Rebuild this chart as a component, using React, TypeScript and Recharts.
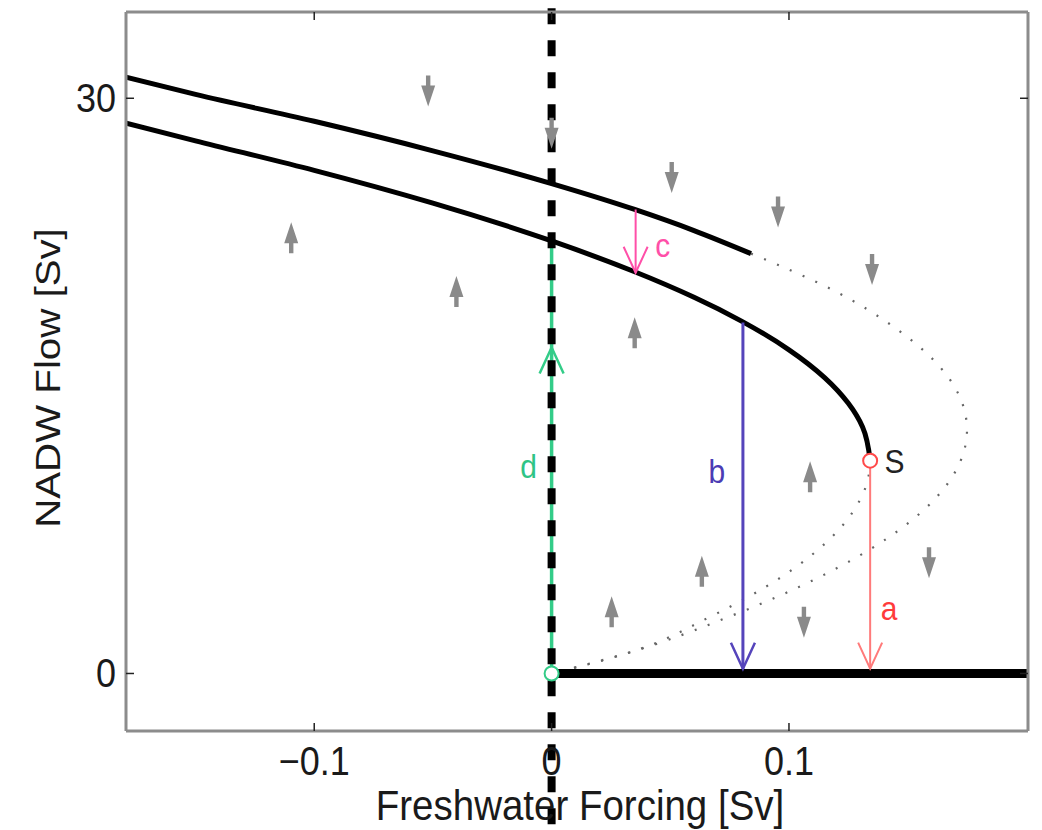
import React from 'react';
import { ComposedChart, Line, Scatter, XAxis, YAxis, ReferenceLine } from 'recharts';

const FONT = '"Liberation Sans", Arial, Helvetica, sans-serif';

// ---- axes ----
const xDomain = [-0.1793, 0.2007];
const yDomain = [-3, 34.5];
const xTicks = [-0.1, 0, 0.1];
const yTicks = [0, 30];

// ---- stable branches (thick black) ----
const upperStableX = [-0.1793, -0.15, -0.1, -0.05, 0, 0.035, 0.06, 0.084];
const upperStableY = [31.1, 30.2, 28.8, 27.26, 25.55, 24.2, 23.1, 21.9];

const lowerStableX = [-0.1793, -0.15, -0.1, -0.05, 0, 0.035, 0.06, 0.08, 0.1, 0.115, 0.125, 0.131, 0.1342];
const lowerStableY = [28.7, 27.78, 26.24, 24.53, 22.56, 20.95, 19.62, 18.38, 16.88, 15.43, 14.09, 12.86, 11.1];

const offStateX = [0, 0.2007];
const offStateY = [0, 0];

// ---- unstable branches (dotted grey) ----
const outerUnstableX = [0.084, 0.1185, 0.145, 0.1635, 0.1733, 0.175, 0.172, 0.1607, 0.1408, 0.1124, 0.0756, 0.0302, 0];
const outerUnstableY = [21.9, 20, 18, 16, 14, 12.7, 11, 9, 7, 5, 3, 1, 0];

const innerUnstableX = [0.1342, 0.133, 0.1297, 0.1171, 0.0964, 0.0675, 0.0304, 0];
const innerUnstableY = [11.1, 10, 9, 7, 5, 3, 1, 0];

// ---- grey direction arrows ----
const flowX = [-0.052, 0, 0.0506, 0.0954, 0.135, -0.1097, -0.0401, 0.035, 0.1089, 0.0633, 0.0253, 0.1063, 0.159];
const flowY = [30.4, 28.2, 25.9, 24.1, 21.1, 22.7, 19.9, 17.75, 10.24, 5.3, 3.2, 2.7, 5.8];
const flowDir = [-1, -1, -1, -1, -1, 1, 1, 1, 1, 1, 1, -1, -1];

// ---- coloured transition arrows ----
const arrowAX = [0.1342, 0.1342];
const arrowAY = [11.1, 0.25];
const arrowBX = [0.0806, 0.0806];
const arrowBY = [18.3, 0.25];
const arrowCX = [0.0354, 0.0354];
const arrowCY = [24.2, 20.9];
const arrowDX = [0, 0, 0];
const arrowDY = [0, 17.0, 22.56];

// ---- labels ----
const labelText = ['a', 'b', 'c', 'd', 'S'];
const labelX = [0.1422, 0.0696, 0.0468, -0.0097, 0.1445];
const labelY = [2.78, 9.93, 21.72, 10.19, 10.45];
const labelColor = ['#ff3b3b', '#4b3cb4', '#ff4fa8', '#2fc486', '#222222'];

// ---- markers ----
const markerX = [0.1342, 0];
const markerY = [11.1, 0];
const markerColor = ['#ff4a4a', '#33cc88'];

const toPts = (xs: number[], ys: number[]) => xs.map((x, i) => ({ x, y: ys[i] }));

const upperStable = toPts(upperStableX, upperStableY);
const lowerStable = toPts(lowerStableX, lowerStableY);
const offState = toPts(offStateX, offStateY);
const outerUnstable = toPts(outerUnstableX, outerUnstableY);
const innerUnstable = toPts(innerUnstableX, innerUnstableY);
const flows = flowX.map((x, i) => ({ x, y: flowY[i], dir: flowDir[i] }));
const labels = labelX.map((x, i) => ({ x, y: labelY[i], t: labelText[i], c: labelColor[i] }));
const markers = markerX.map((x, i) => ({ x, y: markerY[i], c: markerColor[i] }));

const arrowA = [{ x: arrowAX[0], y: arrowAY[0] }, { x: arrowAX[1], y: arrowAY[1], head: -1 }];
const arrowB = [{ x: arrowBX[0], y: arrowBY[0] }, { x: arrowBX[1], y: arrowBY[1], head: -1 }];
const arrowC = [{ x: arrowCX[0], y: arrowCY[0] }, { x: arrowCX[1], y: arrowCY[1], head: -1 }];
const arrowD = [
  { x: arrowDX[0], y: arrowDY[0] },
  { x: arrowDX[1], y: arrowDY[1], head: 1 },
  { x: arrowDX[2], y: arrowDY[2] },
];

const fmt = (v: number) => (v < 0 ? '\u2212' + Math.abs(v) : String(v));

const XTickBottom = (props: any) => {
  const { x, y, payload } = props;
  return (
    <g>
      <line x1={x} x2={x} y1={y} y2={y - 8} stroke="#222" strokeWidth={1.5} />
      <text
        transform={`translate(${x},${y + 44}) scale(1,1.12)`}
        textAnchor="middle"
        fontSize={36}
        fontFamily={FONT}
        fill="#1a1a1a"
      >
        {fmt(payload.value)}
      </text>
    </g>
  );
};

const XTickTop = (props: any) => {
  const { x, y } = props;
  return <line x1={x} x2={x} y1={y} y2={y + 8} stroke="#222" strokeWidth={1.5} />;
};

const YTickLeft = (props: any) => {
  const { x, y, payload } = props;
  return (
    <g>
      <line x1={x} x2={x + 8} y1={y} y2={y} stroke="#222" strokeWidth={1.5} />
      <text
        transform={`translate(${x - 10},${y + 14}) scale(1,1.12)`}
        textAnchor="end"
        fontSize={36}
        fontFamily={FONT}
        fill="#1a1a1a"
      >
        {fmt(payload.value)}
      </text>
    </g>
  );
};

const YTickRight = (props: any) => {
  const { x, y } = props;
  return <line x1={x} x2={x - 8} y1={y} y2={y} stroke="#222" strokeWidth={1.5} />;
};

const FlowArrow = (props: any) => {
  const { cx, cy, payload } = props;
  const d = payload.dir; // 1 up, -1 down
  const tip = cy - d * 16;
  const base = tip + d * 21;
  const tail = cy + d * 15;
  const path = `M${cx},${tip} L${cx + 7},${base} L${cx + 2.2},${base} L${cx + 2.2},${tail} L${cx - 2.2},${tail} L${cx - 2.2},${base} L${cx - 7},${base} Z`;
  return <path d={path} fill="#8a8a8a" stroke="none" />;
};

const makeHead = (color: string, w: number) => (p: any) => {
  const { cx, cy, payload, index } = p;
  if (!payload || !payload.head) return <g key={'h' + index} />;
  const by = cy + payload.head * 26;
  return (
    <path
      key={'h' + index}
      d={`M${cx - 12},${by} L${cx},${cy} L${cx + 12},${by}`}
      fill="none"
      stroke={color}
      strokeWidth={w}
    />
  );
};

const LabelShape = (props: any) => {
  const { cx, cy, payload } = props;
  return (
    <text
      transform={`translate(${cx},${cy}) scale(1,1.12)`}
      textAnchor="middle"
      fontSize={30}
      fontFamily={FONT}
      fill={payload.c}
    >
      {payload.t}
    </text>
  );
};

const MarkerShape = (props: any) => {
  const { cx, cy, payload } = props;
  return <circle cx={cx} cy={cy} r={7} fill="#fff" stroke={payload.c} strokeWidth={2} />;
};

const XTitle = (p: any) => {
  const vb = p.viewBox;
  return (
    <text
      transform={`translate(${vb.x + vb.width / 2 + 3},${vb.y + 89}) scale(1,1.12)`}
      textAnchor="middle"
      fontSize={38.5}
      fontFamily={FONT}
      fill="#1a1a1a"
    >
      Freshwater Forcing [Sv]
    </text>
  );
};

const YTitle = (p: any) => {
  const vb = p.viewBox;
  return (
    <text
      transform={`translate(${vb.x - 6},${vb.y + vb.height / 2 + 6.5}) rotate(-90) scale(1.15,1)`}
      textAnchor="middle"
      fontSize={35}
      fontFamily={FONT}
      fill="#1a1a1a"
    >
      NADW Flow [Sv]
    </text>
  );
};

const axisLine = { stroke: '#8c8c8c', strokeWidth: 3 };

export default function App() {
  return (
    <div style={{ position: 'absolute', left: 0, top: 0, width: 1042, height: 830, background: '#fff' }}>
      <ComposedChart width={1042} height={830} margin={{ top: 0, right: 0, left: 66, bottom: 59 }}>
        <XAxis
          xAxisId="b"
          type="number"
          dataKey="x"
          domain={xDomain}
          ticks={xTicks}
          interval={0}
          allowDataOverflow
          height={40}
          axisLine={axisLine}
          tickLine={false}
          tickSize={0}
          tickMargin={0}
          tick={<XTickBottom />}
          label={{ content: <XTitle /> }}
        />
        <XAxis
          xAxisId="top"
          orientation="top"
          type="number"
          dataKey="x"
          domain={xDomain}
          ticks={xTicks}
          interval={0}
          allowDataOverflow
          height={12}
          axisLine={axisLine}
          tickLine={false}
          tickSize={0}
          tickMargin={0}
          tick={<XTickTop />}
        />
        <YAxis
          yAxisId="l"
          type="number"
          dataKey="y"
          domain={yDomain}
          ticks={yTicks}
          interval={0}
          allowDataOverflow
          width={60}
          axisLine={axisLine}
          tickLine={false}
          tickSize={0}
          tickMargin={0}
          tick={<YTickLeft />}
          label={{ content: <YTitle /> }}
        />
        <YAxis
          yAxisId="right"
          orientation="right"
          type="number"
          dataKey="y"
          domain={yDomain}
          ticks={yTicks}
          interval={0}
          allowDataOverflow
          width={14}
          axisLine={axisLine}
          tickLine={false}
          tickSize={0}
          tickMargin={0}
          tick={<YTickRight />}
        />

        <Line xAxisId="b" yAxisId="l" data={outerUnstable} dataKey="y" type="monotoneY" stroke="#666" strokeWidth={2.2} strokeDasharray="2 12" dot={false} isAnimationActive={false} />
        <Line xAxisId="b" yAxisId="l" data={innerUnstable} dataKey="y" type="monotoneY" stroke="#666" strokeWidth={2.2} strokeDasharray="2 12" dot={false} isAnimationActive={false} />
        <Line xAxisId="b" yAxisId="l" data={upperStable} dataKey="y" type="monotone" stroke="#000" strokeWidth={5} dot={false} isAnimationActive={false} />
        <Line xAxisId="b" yAxisId="l" data={lowerStable} dataKey="y" type="monotoneY" stroke="#000" strokeWidth={5} dot={false} isAnimationActive={false} />
        <Line xAxisId="b" yAxisId="l" data={offState} dataKey="y" type="linear" stroke="#000" strokeWidth={9} dot={false} isAnimationActive={false} />

        <Scatter xAxisId="b" yAxisId="l" data={flows} dataKey="y" shape={<FlowArrow />} isAnimationActive={false} />

        <Line xAxisId="b" yAxisId="l" data={arrowA} dataKey="y" type="linear" stroke="#ff7a7a" strokeWidth={2} dot={makeHead('#ff7a7a', 2)} activeDot={false} isAnimationActive={false} />
        <Line xAxisId="b" yAxisId="l" data={arrowB} dataKey="y" type="linear" stroke="#5544bb" strokeWidth={3} dot={makeHead('#5544bb', 2.5)} activeDot={false} isAnimationActive={false} />
        <Line xAxisId="b" yAxisId="l" data={arrowC} dataKey="y" type="linear" stroke="#ff4fa8" strokeWidth={2} dot={makeHead('#ff4fa8', 2)} activeDot={false} isAnimationActive={false} />
        <Line xAxisId="b" yAxisId="l" data={arrowD} dataKey="y" type="linear" stroke="#33cc88" strokeWidth={3.5} dot={makeHead('#33cc88', 2.5)} activeDot={false} isAnimationActive={false} />

        <ReferenceLine
          xAxisId="b"
          yAxisId="l"
          segment={[{ x: 0, y: 34.7 }, { x: 0, y: -8.3 }]}
          ifOverflow="visible"
          stroke="#000"
          strokeWidth={8}
          strokeDasharray="16 16"
        />

        <Scatter xAxisId="b" yAxisId="l" data={markers} dataKey="y" shape={<MarkerShape />} isAnimationActive={false} />
        <Scatter xAxisId="b" yAxisId="l" data={labels} dataKey="y" shape={<LabelShape />} isAnimationActive={false} />
      </ComposedChart>
    </div>
  );
}
